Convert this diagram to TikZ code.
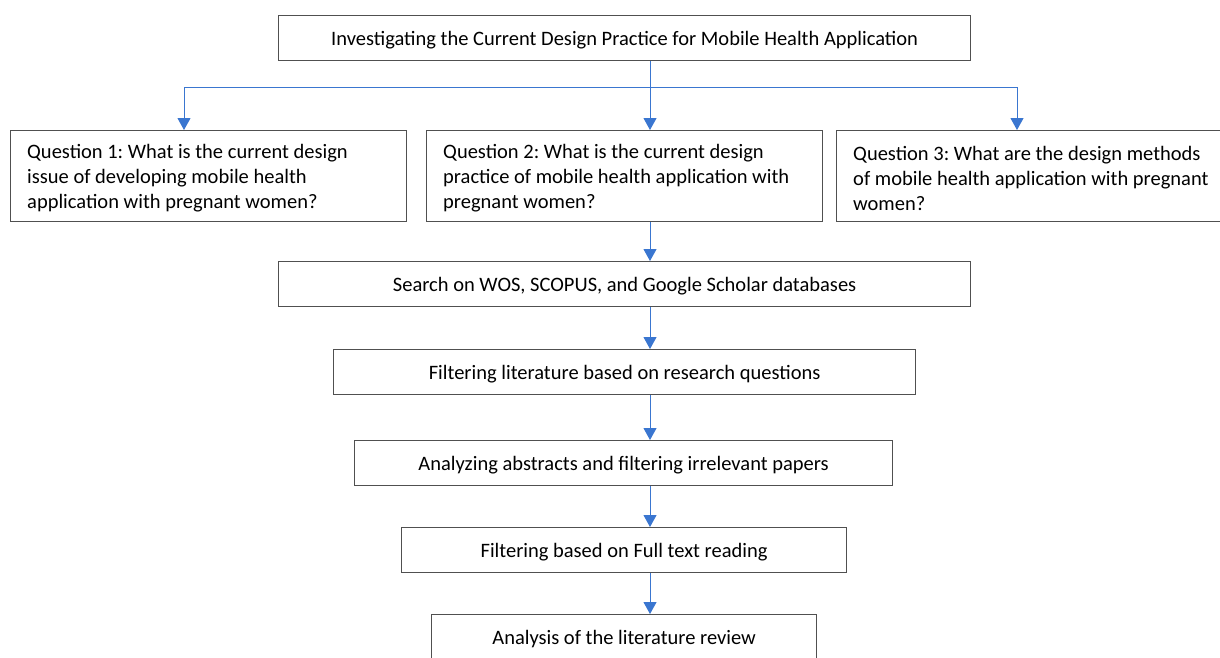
\documentclass[tikz,border=0pt]{standalone}
\usepackage{fontspec}
\setmainfont{Carlito}
\usetikzlibrary{arrows.meta}
\definecolor{boxgray}{RGB}{80,80,80}
\definecolor{arrowblue}{RGB}{58,118,208}
\begin{document}
\begin{tikzpicture}[x=1pt,y=-1pt,
  txt/.style={font=\frenchspacing\fontsize{20.5}{25}\selectfont},
  box/.style={txt,draw=boxgray,line width=1.2pt,minimum height=45pt,inner sep=0pt,
    text depth=0pt,anchor=north west},
  qframe/.style={draw=boxgray,line width=1.2pt,minimum width=396pt,minimum height=91pt,inner sep=0pt,anchor=north west},
  qtext/.style={txt,align=left,inner sep=0pt,anchor=west},
  arr/.style={draw=arrowblue,line width=1pt,-{Triangle[width=13pt,length=12pt]}}]
\useasboundingbox (0,0) rectangle (1220,657);
\clip (0,0) rectangle (1220,657);
\node[box,minimum width=692pt] (top) at (278,15) {Investigating the Current Design Practice for Mobile Health Application};
\node[qframe] (q1) at (10,130) {};
\node[qframe] (q2) at (426,130) {};
\node[qframe] (q3) at (836,130) {};
\node[qtext] (q1t) at ([shift={(17pt,-2pt)}]q1.west) {Question 1: What is the current design\\issue of developing mobile health\\application with pregnant women?};
\node[qtext] (q2t) at ([shift={(17pt,-2pt)}]q2.west) {Question 2: What is the current design\\practice of mobile health application with\\pregnant women?};
\node[qtext] (q3t) at ([shift={(17pt,-2pt)}]q3.west) {Question 3: What are the design methods\\of mobile health application with pregnant\\women?};
\node[box,minimum width=692pt] (search) at (278,261) {Search on WOS, SCOPUS, and Google Scholar databases};
\node[box,minimum width=582pt] (filter) at (333,349) {Filtering literature based on research questions};
\node[box,minimum width=538pt] (abstr) at (354,440) {Analyzing abstracts and filtering irrelevant papers};
\node[box,minimum width=445pt] (full) at (401,527) {Filtering based on Full text reading};
\node[box,minimum width=385pt] (analysis) at (431,614) {Analysis of the literature review};
\coordinate (ax) at (650,0);
\coordinate (split) at (650,87);
\coordinate (c1) at (184,0);
\coordinate (c3) at (1017,0);
\draw[arr] (top.south -| ax) -- (q2.north -| ax);
\draw[arr] (split) -| (q1.north -| c1);
\draw[arr] (split) -| (q3.north -| c3);
\draw[arr] (q2.south -| ax) -- (search.north -| ax);
\draw[arr] (search.south -| ax) -- (filter.north -| ax);
\draw[arr] (filter.south -| ax) -- (abstr.north -| ax);
\draw[arr] (abstr.south -| ax) -- (full.north -| ax);
\draw[arr] (full.south -| ax) -- (analysis.north -| ax);
\end{tikzpicture}
\end{document}
